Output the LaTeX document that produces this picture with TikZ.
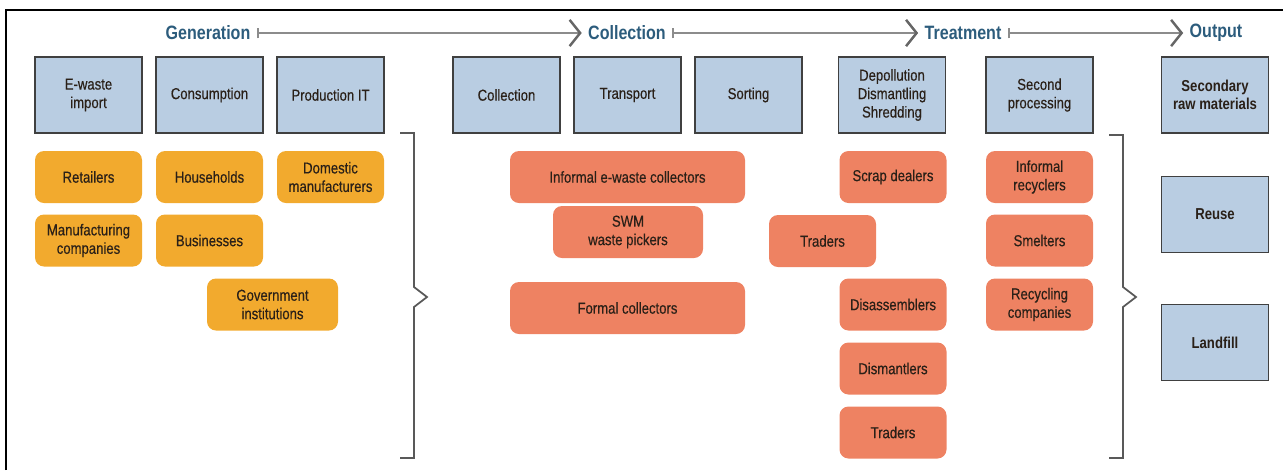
\documentclass[tikz,border=0pt]{standalone}
\usepackage{fontspec}
\setmainfont{Liberation Sans}[FakeStretch=0.83, UprightFeatures={FakeBold=0.4}]
\usetikzlibrary{arrows.meta, positioning}
\definecolor{stageblue}{HTML}{B9CDE2}
\definecolor{actorgold}{HTML}{F2AA2E}
\definecolor{actorsalmon}{HTML}{EE8262}
\definecolor{headteal}{HTML}{2C5C7C}
\definecolor{flowgray}{HTML}{8C8C8C}
\definecolor{inkdark}{HTML}{2A2018}
\tikzstyle{stage} = [rectangle, draw=black!75, line width=0.9pt, fill=stageblue,
minimum width=2.14cm, minimum height=1.52cm, align=center, text=inkdark,
font=\fontsize{9}{10.5}\selectfont]
\tikzstyle{actor} = [rectangle, rounded corners=0.18cm, fill=actorgold,
minimum width=2.14cm, minimum height=1.04cm, align=center, text=inkdark,
font=\fontsize{9}{10.5}\selectfont]
\tikzstyle{agent} = [actor, fill=actorsalmon]
\tikzstyle{phase} = [text=headteal, inner sep=3.5pt, font=\fontsize{11}{13}\selectfont\bfseries]
\tikzstyle{flow} = [draw=flowgray, line width=1pt,
{Bar[width=6pt]}-{Straight Barb[length=6pt,width=15pt,line width=1.4pt,color=black!60]}]
\tikzstyle{brace} = [draw=black!65, line width=1pt]

\begin{document}
\begin{tikzpicture}
    \useasboundingbox (0,0) rectangle (25.66,-9.4);
    \draw [line width=1.5pt] (0.12,-9.4) -- (0.12,-0.2) -- (25.66,-0.2);

    % phases along the top
    \node [phase] (gen) at (4.16,-0.66) {Generation};
    \node [phase] (col) at (12.54,-0.66) {Collection};
    \node [phase] (treat) at (19.26,-0.66) {Treatment};
    \node [phase] (out) at (24.32,-0.66) {Output};
    \path [flow] (gen) -- (col);
    \path [flow] (col) -- (treat);
    \path [flow] (treat) -- (out);

    % stages
    \node [stage] (ewaste) at (1.77,-1.90) {E-waste\\import};
    \node [stage, right of=ewaste, node distance=2.42cm] (consump) {Consumption};
    \node [stage, right of=consump, node distance=2.42cm] (prodit) {Production IT};
    \node [stage] (collect) at (10.13,-1.90) {Collection};
    \node [stage, right of=collect, node distance=2.42cm] (transp) {Transport};
    \node [stage, right of=transp, node distance=2.42cm] (sorting) {Sorting};
    \node [stage] (depol) at (17.84,-1.90) {Depollution\\Dismantling\\Shredding};
    \node [stage, right of=depol, node distance=2.95cm] (second) {Second\\processing};
    \node [stage, font=\fontsize{9}{10.5}\selectfont\bfseries] (secraw) at (24.30,-1.90) {Secondary\\raw materials};
    \node [stage, below of=secraw, node distance=2.39cm, font=\fontsize{9}{10.5}\selectfont\bfseries] (reuse) {Reuse};
    \node [stage, below of=reuse, node distance=2.56cm, font=\fontsize{9}{10.5}\selectfont\bfseries] (landfill) {Landfill};

    % generators
    \node [actor] (retail) at (1.77,-3.54) {Retailers};
    \node [actor, right of=retail, node distance=2.42cm] (househ) {Households};
    \node [actor, right of=househ, node distance=2.42cm] (domestic) {Domestic\\manufacturers};
    \node [actor, below of=retail, node distance=1.27cm] (manufac) {Manufacturing\\companies};
    \node [actor, below of=househ, node distance=1.27cm] (business) {Businesses};
    \node [actor, minimum width=2.62cm] (govt) at (5.45,-6.09) {Government\\institutions};

    % collectors and processors
    \node [agent, minimum width=4.7cm] (infcoll) at (12.55,-3.54) {Informal e-waste collectors};
    \node [agent, minimum width=3.0cm] (swm) at (12.56,-4.64) {SWM\\waste pickers};
    \node [agent, minimum width=4.7cm] (formal) at (12.55,-6.16) {Formal collectors};
    \node [agent] (tradea) at (16.45,-4.82) {Traders};
    \node [agent] (scrap) at (17.86,-3.54) {Scrap dealers};
    \node [agent, below of=scrap, node distance=2.55cm] (disasm) {Disassemblers};
    \node [agent, below of=disasm, node distance=1.28cm] (dismant) {Dismantlers};
    \node [agent, below of=dismant, node distance=1.28cm] (tradeb) {Traders};
    \node [agent] (infrec) at (20.79,-3.54) {Informal\\recyclers};
    \node [agent, below of=infrec, node distance=1.27cm] (smelt) {Smelters};
    \node [agent, below of=smelt, node distance=1.28cm] (recyc) {Recycling\\companies};

    % braces
    \path [brace] (8.0,-2.66) -- (8.28,-2.66) -- (8.28,-5.74) -- (8.54,-5.94)
        -- (8.28,-6.14) -- (8.28,-9.16) -- (8.0,-9.16);
    \path [brace] (22.18,-2.70) -- (22.46,-2.70) -- (22.46,-5.74) -- (22.72,-5.94)
        -- (22.46,-6.14) -- (22.46,-9.16) -- (22.18,-9.16);
\end{tikzpicture}
\end{document}
